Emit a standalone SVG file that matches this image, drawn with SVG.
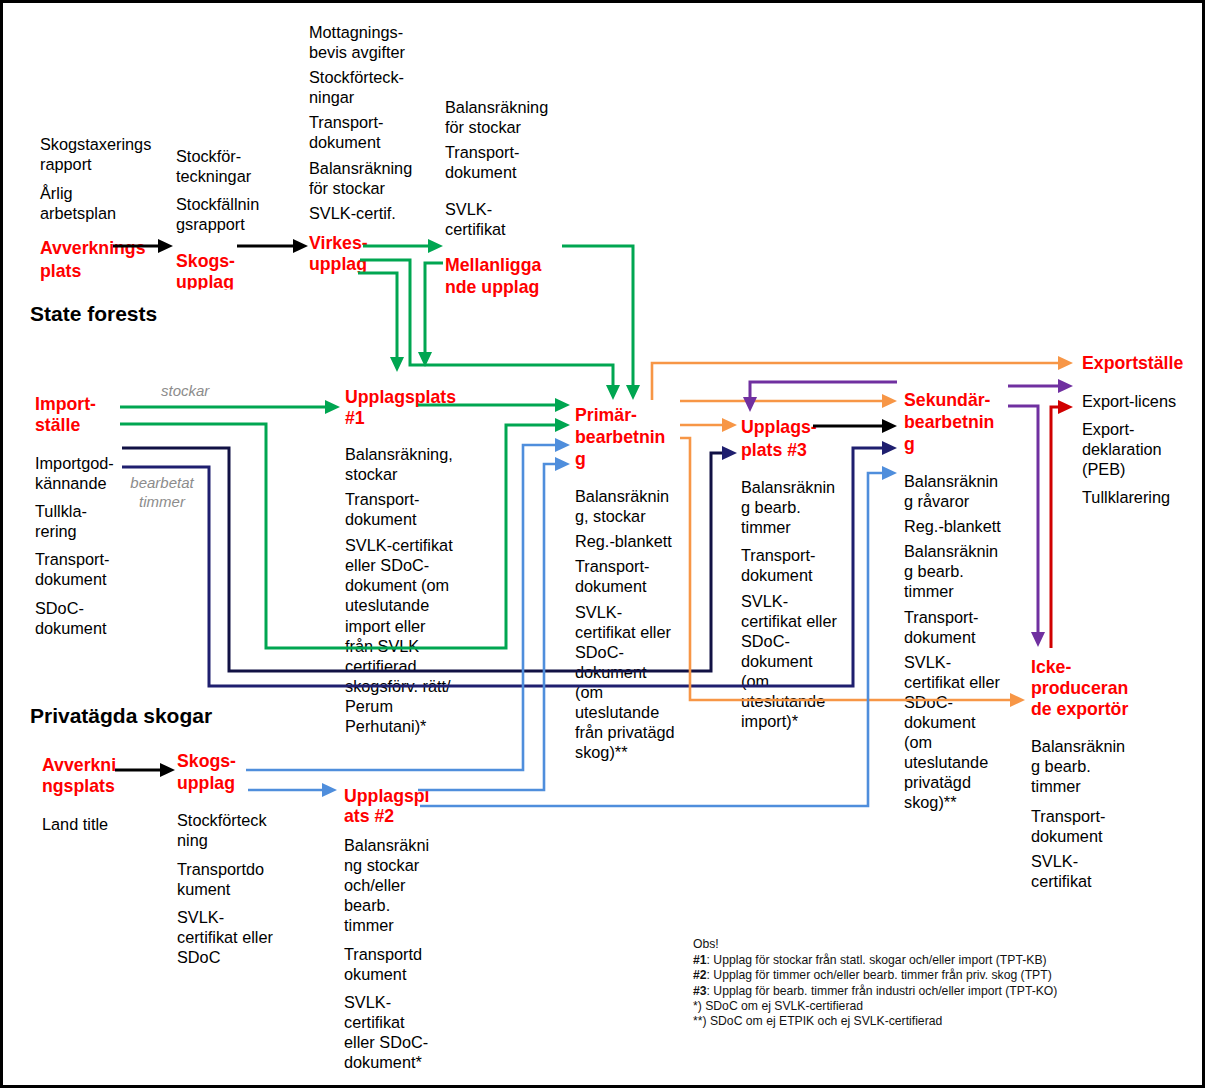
<svg xmlns="http://www.w3.org/2000/svg" width="1207" height="1090" viewBox="0 0 1207 1090">
<style>
text{font-family:"Liberation Sans",Arial,sans-serif}
.t{font-size:16.3px;fill:#000}
.r{font-size:17.7px;font-weight:bold;fill:#f00}
.h{font-size:21px;font-weight:bold;fill:#000}
.g{font-size:15px;font-style:italic;fill:#8c8c8c}
.n{font-size:12.2px;fill:#111}
.c{fill:none;stroke-width:3;stroke-linejoin:miter}
.k{stroke:#000}.gr{stroke:#00A651}.nv{stroke:#1F1F6F}.nb{stroke:#111144}.or{stroke:#F79646;stroke-width:2.6}.pu{stroke:#7030A0}.rd{stroke:#D00000}.bl{stroke:#4F8EDC;stroke-width:2.6}
</style>
<defs>
<marker id="aK" viewBox="0 0 15 14" markerWidth="15" markerHeight="14" refX="9" refY="7" orient="auto" markerUnits="userSpaceOnUse"><path d="M0,0L15,7L0,14z" fill="#000"/></marker>
<marker id="aG" viewBox="0 0 15 14" markerWidth="15" markerHeight="14" refX="9" refY="7" orient="auto" markerUnits="userSpaceOnUse"><path d="M0,0L15,7L0,14z" fill="#00A651"/></marker>
<marker id="aN" viewBox="0 0 15 14" markerWidth="15" markerHeight="14" refX="9" refY="7" orient="auto" markerUnits="userSpaceOnUse"><path d="M0,0L15,7L0,14z" fill="#1F1F6F"/></marker>
<marker id="aO" viewBox="0 0 15 14" markerWidth="15" markerHeight="14" refX="9" refY="7" orient="auto" markerUnits="userSpaceOnUse"><path d="M0,0L15,7L0,14z" fill="#F79646"/></marker>
<marker id="aP" viewBox="0 0 15 14" markerWidth="15" markerHeight="14" refX="9" refY="7" orient="auto" markerUnits="userSpaceOnUse"><path d="M0,0L15,7L0,14z" fill="#7030A0"/></marker>
<marker id="aR" viewBox="0 0 15 14" markerWidth="15" markerHeight="14" refX="9" refY="7" orient="auto" markerUnits="userSpaceOnUse"><path d="M0,0L15,7L0,14z" fill="#D00000"/></marker>
<marker id="aB" viewBox="0 0 15 14" markerWidth="15" markerHeight="14" refX="9" refY="7" orient="auto" markerUnits="userSpaceOnUse"><path d="M0,0L15,7L0,14z" fill="#4F8EDC"/></marker>
<clipPath id="clipUpp"><rect x="170" y="240" width="120" height="49.5"/></clipPath>
</defs>
<rect x="0" y="0" width="1207" height="1090" fill="#fff"/>
<rect x="1.5" y="1.5" width="1202" height="1085" fill="none" stroke="#000" stroke-width="3"/>

<g id="heading-state"><text class="h" x="30" y="321">State forests</text></g>
<g id="heading-private"><text class="h" x="30" y="723">Privatägda skogar</text></g>

<g id="node-avverkningsplats-state">
<text class="t"><tspan x="40" y="150">Skogstaxerings</tspan><tspan x="40" y="170">rapport</tspan><tspan x="40" y="199">Årlig</tspan><tspan x="40" y="219">arbetsplan</tspan></text>
<text class="r"><tspan x="40" y="254">Avverknings</tspan><tspan x="40" y="277">plats</tspan></text>
</g>

<g id="node-skogsupplag-state">
<text class="t"><tspan x="176" y="162">Stockför-</tspan><tspan x="176" y="182">teckningar</tspan><tspan x="176" y="210">Stockfällnin</tspan><tspan x="176" y="230">gsrapport</tspan></text>
<text class="r" clip-path="url(#clipUpp)"><tspan x="176" y="267">Skogs-</tspan><tspan x="176" y="288">upplag</tspan></text>
</g>

<g id="node-virkesupplag">
<text class="t"><tspan x="309" y="38">Mottagnings-</tspan><tspan x="309" y="58">bevis avgifter</tspan><tspan x="309" y="83">Stockförteck-</tspan><tspan x="309" y="103">ningar</tspan><tspan x="309" y="128">Transport-</tspan><tspan x="309" y="148">dokument</tspan><tspan x="309" y="174">Balansräkning</tspan><tspan x="309" y="194">för stockar</tspan><tspan x="309" y="219">SVLK-certif.</tspan></text>
<text class="r"><tspan x="309" y="249">Virkes-</tspan><tspan x="309" y="270">upplag</tspan></text>
</g>

<g id="node-mellanliggande">
<text class="t"><tspan x="445" y="113">Balansräkning</tspan><tspan x="445" y="133">för stockar</tspan><tspan x="445" y="158">Transport-</tspan><tspan x="445" y="178">dokument</tspan><tspan x="445" y="215">SVLK-</tspan><tspan x="445" y="235">certifikat</tspan></text>
<text class="r"><tspan x="445" y="271">Mellanligga</tspan><tspan x="445" y="293">nde upplag</tspan></text>
</g>

<g id="node-importstalle">
<text class="r"><tspan x="35" y="410">Import-</tspan><tspan x="35" y="431">ställe</tspan></text>
<text class="t"><tspan x="35" y="469">Importgod-</tspan><tspan x="35" y="489">kännande</tspan><tspan x="35" y="517">Tullkla-</tspan><tspan x="35" y="537">rering</tspan><tspan x="35" y="565">Transport-</tspan><tspan x="35" y="585">dokument</tspan><tspan x="35" y="614">SDoC-</tspan><tspan x="35" y="634">dokument</tspan></text>
</g>

<g id="node-upplagsplats1">
<text class="r"><tspan x="345" y="403">Upplagsplats</tspan><tspan x="345" y="424">#1</tspan></text>
<text class="t"><tspan x="345" y="460">Balansräkning,</tspan><tspan x="345" y="480">stockar</tspan><tspan x="345" y="505">Transport-</tspan><tspan x="345" y="525">dokument</tspan><tspan x="345" y="551">SVLK-certifikat</tspan><tspan x="345" y="571">eller SDoC-</tspan><tspan x="345" y="591">dokument (om</tspan><tspan x="345" y="611">uteslutande</tspan><tspan x="345" y="632">import eller</tspan><tspan x="345" y="652">från SVLK</tspan><tspan x="345" y="672">certifierad</tspan><tspan x="345" y="692">skogsförv. rätt/</tspan><tspan x="345" y="712">Perum</tspan><tspan x="345" y="732">Perhutani)*</tspan></text>
</g>

<g id="node-primarbearbetning">
<text class="r"><tspan x="575" y="421">Primär-</tspan><tspan x="575" y="443">bearbetnin</tspan><tspan x="575" y="465">g</tspan></text>
<text class="t"><tspan x="575" y="502">Balansräknin</tspan><tspan x="575" y="522">g, stockar</tspan><tspan x="575" y="547">Reg.-blankett</tspan><tspan x="575" y="572">Transport-</tspan><tspan x="575" y="592">dokument</tspan><tspan x="575" y="618">SVLK-</tspan><tspan x="575" y="638">certifikat eller</tspan><tspan x="575" y="658">SDoC-</tspan><tspan x="575" y="678">dokument</tspan><tspan x="575" y="698">(om</tspan><tspan x="575" y="718">uteslutande</tspan><tspan x="575" y="738">från privatägd</tspan><tspan x="575" y="758">skog)**</tspan></text>
</g>

<g id="node-upplagsplats3">
<text class="r"><tspan x="741" y="433">Upplags-</tspan><tspan x="741" y="456">plats #3</tspan></text>
<text class="t"><tspan x="741" y="493">Balansräknin</tspan><tspan x="741" y="513">g bearb.</tspan><tspan x="741" y="533">timmer</tspan><tspan x="741" y="561">Transport-</tspan><tspan x="741" y="581">dokument</tspan><tspan x="741" y="607">SVLK-</tspan><tspan x="741" y="627">certifikat eller</tspan><tspan x="741" y="647">SDoC-</tspan><tspan x="741" y="667">dokument</tspan><tspan x="741" y="687">(om</tspan><tspan x="741" y="707">uteslutande</tspan><tspan x="741" y="727">import)*</tspan></text>
</g>

<g id="node-sekundarbearbetning">
<text class="r"><tspan x="904" y="406">Sekundär-</tspan><tspan x="904" y="428">bearbetnin</tspan><tspan x="904" y="450">g</tspan></text>
<text class="t"><tspan x="904" y="487">Balansräknin</tspan><tspan x="904" y="507">g råvaror</tspan><tspan x="904" y="532">Reg.-blankett</tspan><tspan x="904" y="557">Balansräknin</tspan><tspan x="904" y="577">g bearb.</tspan><tspan x="904" y="597">timmer</tspan><tspan x="904" y="623">Transport-</tspan><tspan x="904" y="643">dokument</tspan><tspan x="904" y="668">SVLK-</tspan><tspan x="904" y="688">certifikat eller</tspan><tspan x="904" y="708">SDoC-</tspan><tspan x="904" y="728">dokument</tspan><tspan x="904" y="748">(om</tspan><tspan x="904" y="768">uteslutande</tspan><tspan x="904" y="788">privatägd</tspan><tspan x="904" y="808">skog)**</tspan></text>
</g>

<g id="node-exportstalle">
<text class="r" x="1082" y="369">Exportställe</text>
<text class="t"><tspan x="1082" y="407">Export-licens</tspan><tspan x="1082" y="435">Export-</tspan><tspan x="1082" y="455">deklaration</tspan><tspan x="1082" y="475">(PEB)</tspan><tspan x="1082" y="503">Tullklarering</tspan></text>
</g>

<g id="node-ickeproducerande">
<text class="r"><tspan x="1031" y="673">Icke-</tspan><tspan x="1031" y="694">produceran</tspan><tspan x="1031" y="715">de exportör</tspan></text>
<text class="t"><tspan x="1031" y="752">Balansräknin</tspan><tspan x="1031" y="772">g bearb.</tspan><tspan x="1031" y="792">timmer</tspan><tspan x="1031" y="822">Transport-</tspan><tspan x="1031" y="842">dokument</tspan><tspan x="1031" y="867">SVLK-</tspan><tspan x="1031" y="887">certifikat</tspan></text>
</g>

<g id="node-avverkningsplats-private">
<text class="r"><tspan x="42" y="771">Avverkni</tspan><tspan x="42" y="792">ngsplats</tspan></text>
<text class="t" x="42" y="830">Land title</text>
</g>

<g id="node-skogsupplag-private">
<text class="r"><tspan x="177" y="767">Skogs-</tspan><tspan x="177" y="789">upplag</tspan></text>
<text class="t"><tspan x="177" y="826">Stockförteck</tspan><tspan x="177" y="846">ning</tspan><tspan x="177" y="875">Transportdo</tspan><tspan x="177" y="895">kument</tspan><tspan x="177" y="923">SVLK-</tspan><tspan x="177" y="943">certifikat eller</tspan><tspan x="177" y="963">SDoC</tspan></text>
</g>

<g id="node-upplagsplats2">
<text class="r"><tspan x="344" y="802">Upplagspl</tspan><tspan x="344" y="822">ats #2</tspan></text>
<text class="t"><tspan x="344" y="851">Balansräkni</tspan><tspan x="344" y="871">ng stockar</tspan><tspan x="344" y="891">och/eller</tspan><tspan x="344" y="911">bearb.</tspan><tspan x="344" y="931">timmer</tspan><tspan x="344" y="960">Transportd</tspan><tspan x="344" y="980">okument</tspan><tspan x="344" y="1008">SVLK-</tspan><tspan x="344" y="1028">certifikat</tspan><tspan x="344" y="1048">eller SDoC-</tspan><tspan x="344" y="1068">dokument*</tspan></text>
</g>

<g id="notes">
<text class="n"><tspan x="693" y="948">Obs!</tspan><tspan x="693" y="964"><tspan font-weight="bold">#1</tspan>: Upplag för stockar från statl. skogar och/eller import (TPT-KB)</tspan><tspan x="693" y="979"><tspan font-weight="bold">#2</tspan>: Upplag för timmer och/eller bearb. timmer från priv. skog (TPT)</tspan><tspan x="693" y="995"><tspan font-weight="bold">#3</tspan>: Upplag för bearb. timmer från industri och/eller import (TPT-KO)</tspan><tspan x="693" y="1010">*) SDoC om ej SVLK-certifierad</tspan><tspan x="693" y="1025">**) SDoC om ej ETPIK och ej SVLK-certifierad</tspan></text>
</g>

<g id="connector-labels">
<text class="g" x="161" y="396">stockar</text>
<text class="g" text-anchor="middle"><tspan x="162" y="488">bearbetat</tspan><tspan x="162" y="507">timmer</tspan></text>
</g>

<g id="connectors">
<path class="c k" d="M113,246H167" marker-end="url(#aK)"/>
<path class="c k" d="M237,246H302" marker-end="url(#aK)"/>
<path class="c k" d="M115,770H169" marker-end="url(#aK)"/>
<path class="c k" d="M813,426H891" marker-end="url(#aK)"/>

<path class="c gr" d="M363,246H437" marker-end="url(#aG)"/>
<path class="c gr" d="M360,260H410V365H613V394" marker-end="url(#aG)"/>
<path class="c gr" d="M358,273H397V366" marker-end="url(#aG)"/>
<path class="c gr" d="M443,263H425V361" marker-end="url(#aG)"/>
<path class="c gr" d="M562,246H633V394" marker-end="url(#aG)"/>
<path class="c gr" d="M120,407H334" marker-end="url(#aG)"/>
<path class="c gr" d="M418,405H564" marker-end="url(#aG)"/>
<path class="c gr" d="M120,424H266V648H506V425H564" marker-end="url(#aG)"/>

<path class="c nb" d="M122,448H229V671H711V453H731" marker-end="url(#aN)"/>
<path class="c nv" d="M122,467H209V686H853V448H891" marker-end="url(#aN)"/>

<path class="c or" d="M652,400V363H1067" marker-end="url(#aO)"/>
<path class="c or" d="M680,401H891" marker-end="url(#aO)"/>
<path class="c or" d="M680,425H731" marker-end="url(#aO)"/>
<path class="c or" d="M680,438H690V700H1019" marker-end="url(#aO)"/>

<path class="c pu" d="M897,382H750V406" marker-end="url(#aP)"/>
<path class="c pu" d="M1008,386H1067" marker-end="url(#aP)"/>
<path class="c pu" d="M1008,406H1038V641" marker-end="url(#aP)"/>

<path class="c rd" d="M1051,648V407H1067" marker-end="url(#aR)"/>

<path class="c bl" d="M246,770H523V445H564" marker-end="url(#aB)"/>
<path class="c bl" d="M248,790H331" marker-end="url(#aB)"/>
<path class="c bl" d="M418,790H544V464H564" marker-end="url(#aB)"/>
<path class="c bl" d="M420,806H868V473H891" marker-end="url(#aB)"/>
</g>
</svg>
